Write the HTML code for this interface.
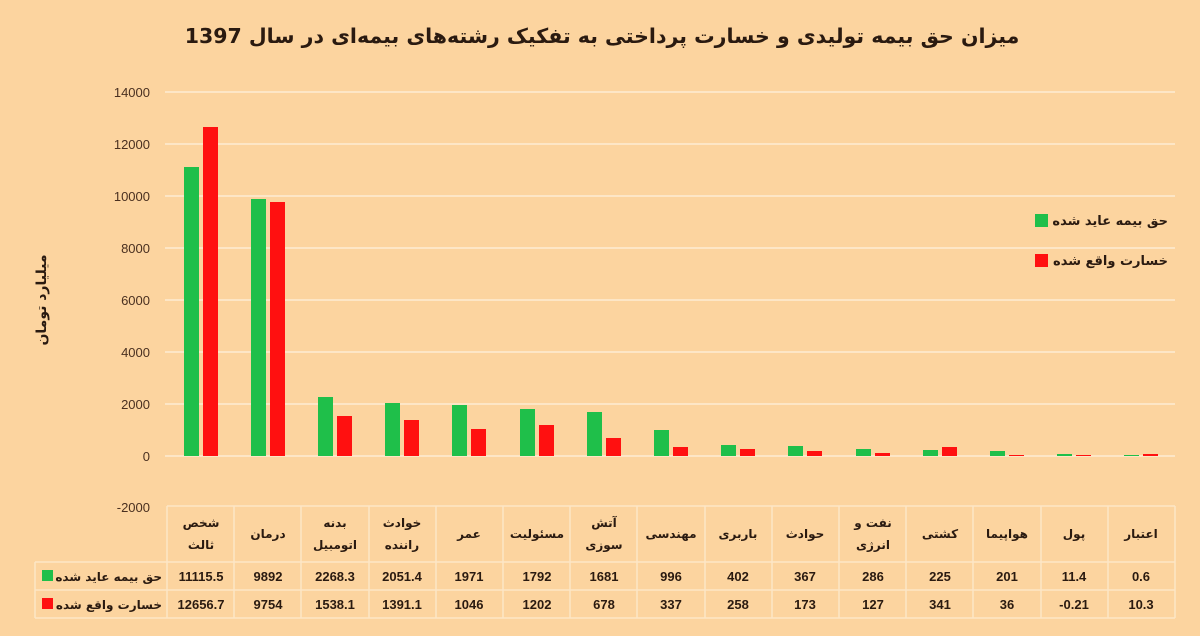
<!DOCTYPE html>
<html><head><meta charset="utf-8"><style>
html,body{margin:0;padding:0;background:#fcd49f;}
svg{display:block;font-family:"Liberation Sans","DejaVu Sans",sans-serif;}
.fa{font-family:"DejaVu Sans","Noto Sans CJK SC",sans-serif;}
</style></head><body>
<svg width="1200" height="636" viewBox="0 0 1200 636" xmlns="http://www.w3.org/2000/svg">
<rect width="1200" height="636" fill="#fcd49f"/>
<text x="602" y="43" text-anchor="middle" font-size="20.5" font-weight="bold" fill="#2a1a10" class="fa" direction="rtl">میزان حق بیمه تولیدی و خسارت پرداختی به تفکیک رشته‌های بیمه‌ای در سال 1397</text>
<g stroke="#fde6c6" stroke-width="2">
<line x1="165" y1="92" x2="1175" y2="92"/><line x1="165" y1="144" x2="1175" y2="144"/>
<line x1="165" y1="196" x2="1175" y2="196"/><line x1="165" y1="248" x2="1175" y2="248"/>
<line x1="165" y1="300" x2="1175" y2="300"/><line x1="165" y1="352" x2="1175" y2="352"/>
<line x1="165" y1="404" x2="1175" y2="404"/><line x1="165" y1="456" x2="1175" y2="456"/>
</g>
<g font-size="13" fill="#4a3020" text-anchor="end">
<text x="150" y="97">14000</text><text x="150" y="149">12000</text><text x="150" y="201">10000</text>
<text x="150" y="253">8000</text><text x="150" y="305">6000</text><text x="150" y="357">4000</text>
<text x="150" y="409">2000</text><text x="150" y="461">0</text><text x="150" y="512">-2000</text>
</g>
<text transform="translate(46,300) rotate(-90)" text-anchor="middle" font-size="14" font-weight="bold" fill="#2a1a10" class="fa">میلیارد تومان</text>
<g fill="#1fbf4a">
<rect x="184" y="167" width="15" height="289"/><rect x="251" y="199" width="15" height="257"/>
<rect x="318" y="397" width="15" height="59"/><rect x="385" y="403" width="15" height="53"/>
<rect x="452" y="405" width="15" height="51"/><rect x="520" y="409" width="15" height="47"/>
<rect x="587" y="412" width="15" height="44"/><rect x="654" y="430" width="15" height="26"/>
<rect x="721" y="445" width="15" height="11"/><rect x="788" y="446" width="15" height="10"/>
<rect x="856" y="449" width="15" height="7"/><rect x="923" y="450" width="15" height="6"/>
<rect x="990" y="451" width="15" height="5"/><rect x="1057" y="454" width="15" height="2"/>
<rect x="1124" y="455" width="15" height="1"/>
</g>
<g fill="#ff1010">
<rect x="203" y="127" width="15" height="329"/><rect x="270" y="202" width="15" height="254"/>
<rect x="337" y="416" width="15" height="40"/><rect x="404" y="420" width="15" height="36"/>
<rect x="471" y="429" width="15" height="27"/><rect x="539" y="425" width="15" height="31"/>
<rect x="606" y="438" width="15" height="18"/><rect x="673" y="447" width="15" height="9"/>
<rect x="740" y="449" width="15" height="7"/><rect x="807" y="451" width="15" height="5"/>
<rect x="875" y="453" width="15" height="3"/><rect x="942" y="447" width="15" height="9"/>
<rect x="1009" y="455" width="15" height="1"/><rect x="1076" y="455" width="15" height="1"/>
<rect x="1143" y="454" width="15" height="2"/>
</g>
<rect x="1035" y="214" width="13" height="13" fill="#1fbf4a"/>
<text x="1168" y="225" text-anchor="end" font-size="13" font-weight="bold" fill="#2a1a10" class="fa">حق بیمه عاید شده</text>
<rect x="1035" y="254" width="13" height="13" fill="#ff1010"/>
<text x="1168" y="265" text-anchor="end" font-size="13" font-weight="bold" fill="#2a1a10" class="fa">خسارت واقع شده</text>
<g stroke="#fde6c6" stroke-width="1.5" fill="none">
<line x1="167" y1="506" x2="1175" y2="506"/>
<line x1="35" y1="562" x2="1175" y2="562"/>
<line x1="35" y1="590" x2="1175" y2="590"/>
<line x1="35" y1="618" x2="1175" y2="618"/>
<line x1="35" y1="562" x2="35" y2="618"/>
<line x1="167" y1="506" x2="167" y2="618"/><line x1="234" y1="506" x2="234" y2="618"/>
<line x1="301" y1="506" x2="301" y2="618"/><line x1="369" y1="506" x2="369" y2="618"/>
<line x1="436" y1="506" x2="436" y2="618"/><line x1="503" y1="506" x2="503" y2="618"/>
<line x1="570" y1="506" x2="570" y2="618"/><line x1="637" y1="506" x2="637" y2="618"/>
<line x1="705" y1="506" x2="705" y2="618"/><line x1="772" y1="506" x2="772" y2="618"/>
<line x1="839" y1="506" x2="839" y2="618"/><line x1="906" y1="506" x2="906" y2="618"/>
<line x1="973" y1="506" x2="973" y2="618"/><line x1="1041" y1="506" x2="1041" y2="618"/>
<line x1="1108" y1="506" x2="1108" y2="618"/><line x1="1175" y1="506" x2="1175" y2="618"/>
</g>
<g font-size="12" font-weight="bold" fill="#2a1a10" text-anchor="middle" class="fa">
<text x="201" y="527">شخص</text><text x="201" y="549">ثالث</text>
<text x="268" y="538">درمان</text>
<text x="335" y="527">بدنه</text><text x="335" y="549">اتومبیل</text>
<text x="402" y="527">خوادث</text><text x="402" y="549">راننده</text>
<text x="469" y="538">عمر</text>
<text x="537" y="538">مسئولیت</text>
<text x="604" y="527">آتش</text><text x="604" y="549">سوزی</text>
<text x="671" y="538">مهندسی</text>
<text x="738" y="538">باربری</text>
<text x="805" y="538">حوادث</text>
<text x="873" y="527">نفت و</text><text x="873" y="549">انرژی</text>
<text x="940" y="538">کشتی</text>
<text x="1007" y="538">هواپیما</text>
<text x="1074" y="538">پول</text>
<text x="1141" y="538">اعتبار</text>
<text x="162" y="581" text-anchor="end">حق بیمه عاید شده</text>
<text x="162" y="609" text-anchor="end">خسارت واقع شده</text>
</g>
<rect x="42" y="570" width="11" height="11" fill="#1fbf4a"/>
<rect x="42" y="598" width="11" height="11" fill="#ff1010"/>
<g font-size="13" font-weight="bold" fill="#2a1a10" text-anchor="middle">
<text x="201" y="581">11115.5</text><text x="268" y="581">9892</text><text x="335" y="581">2268.3</text>
<text x="402" y="581">2051.4</text><text x="469" y="581">1971</text><text x="537" y="581">1792</text>
<text x="604" y="581">1681</text><text x="671" y="581">996</text><text x="738" y="581">402</text>
<text x="805" y="581">367</text><text x="873" y="581">286</text><text x="940" y="581">225</text>
<text x="1007" y="581">201</text><text x="1074" y="581">11.4</text><text x="1141" y="581">0.6</text>
<text x="201" y="609">12656.7</text><text x="268" y="609">9754</text><text x="335" y="609">1538.1</text>
<text x="402" y="609">1391.1</text><text x="469" y="609">1046</text><text x="537" y="609">1202</text>
<text x="604" y="609">678</text><text x="671" y="609">337</text><text x="738" y="609">258</text>
<text x="805" y="609">173</text><text x="873" y="609">127</text><text x="940" y="609">341</text>
<text x="1007" y="609">36</text><text x="1074" y="609">-0.21</text><text x="1141" y="609">10.3</text>
</g>
</svg>
</body></html>
